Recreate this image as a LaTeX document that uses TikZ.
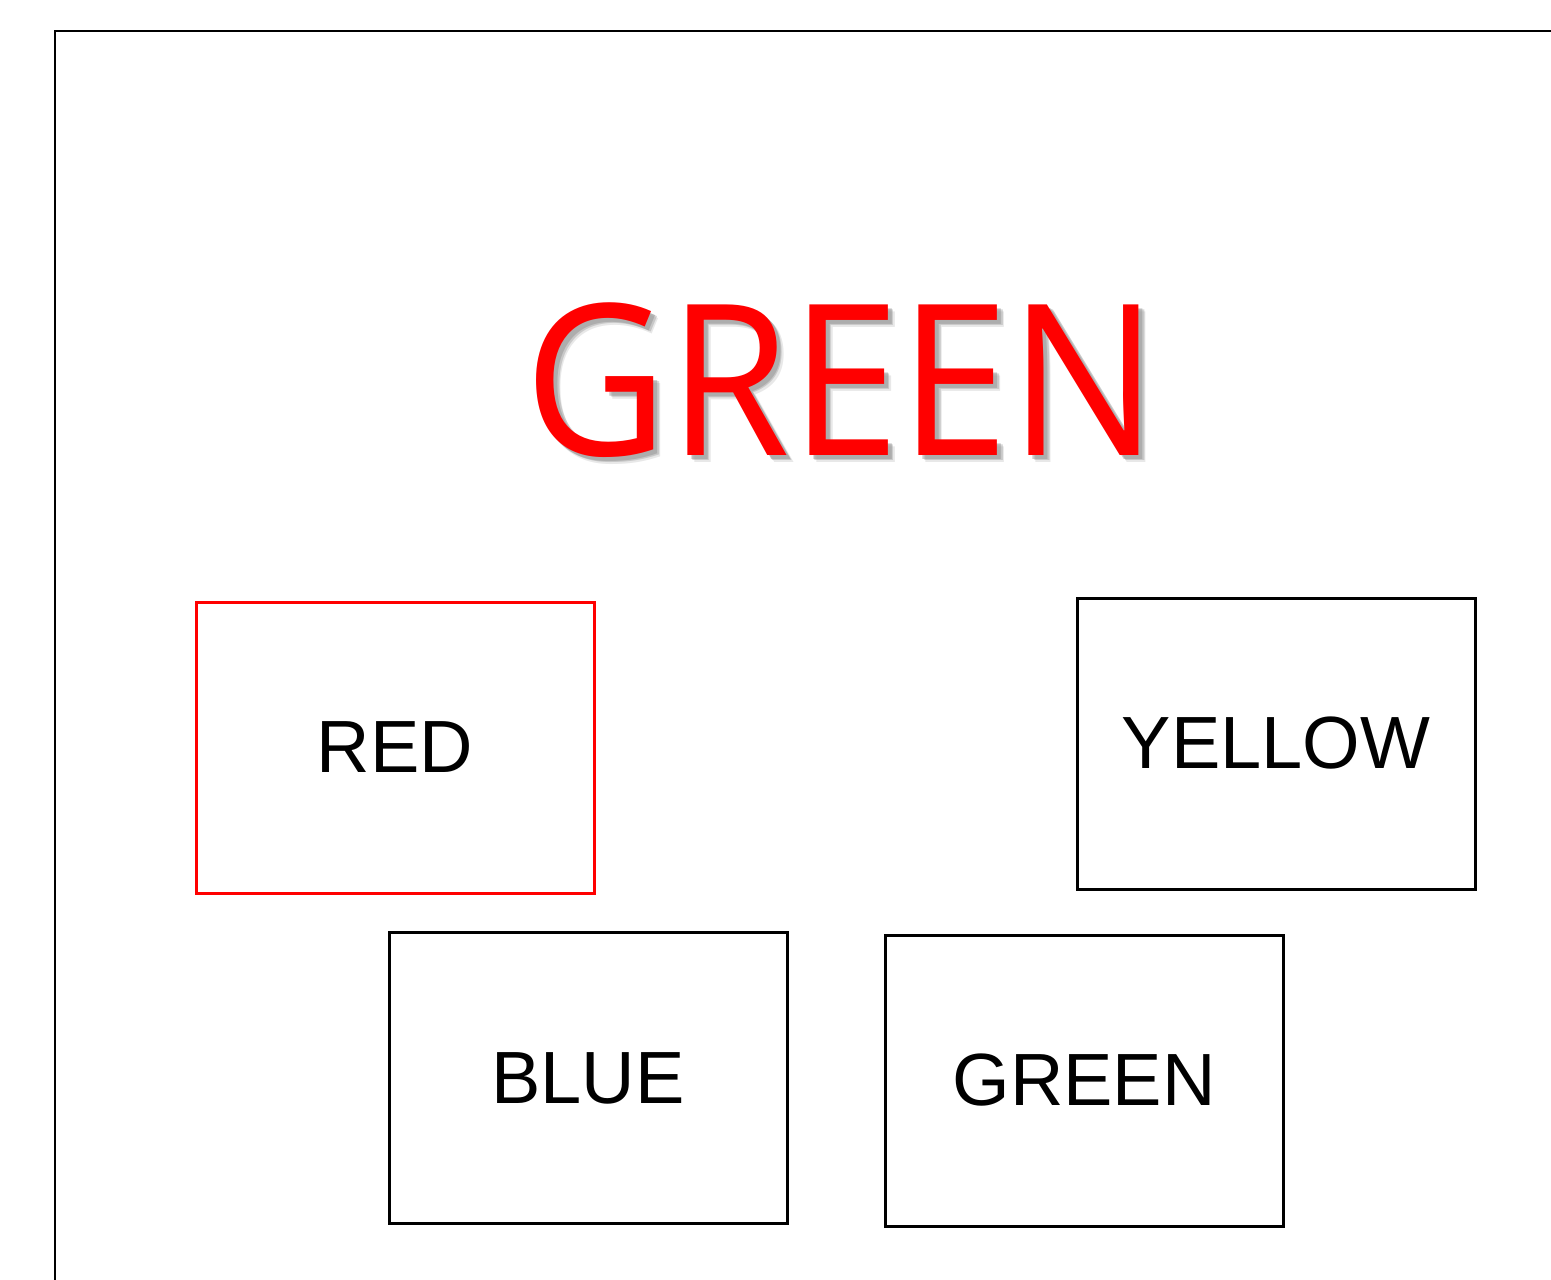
\documentclass[tikz,border=0pt]{standalone}
\usepackage{fontspec}
\setmainfont{Liberation Sans}
\newfontfamily\titlefont{Open Sans}
\begin{document}
\begin{tikzpicture}[x=1pt,y=-1pt,
  colorbox/.style={draw=black,line width=3pt,minimum width=398pt,minimum height=291pt,inner sep=0pt,
    font=\fontsize{74}{74}\selectfont},
  titletext/.style={anchor=base,inner sep=0pt,xscale=0.935,font=\titlefont\fontsize{211}{211}\selectfont}]
\useasboundingbox (0,0) rectangle (1551,1280);
\draw[line width=2pt] (55,1281) -- (55,31) -- (1552,31);
% title shadow
\foreach \d/\o in {7/0.2,5.5/0.35,4/0.45}{
  \node[titletext,text=black!45,opacity=\o] (sh\d) at (841.5+\d,455+\d) {GREEN};
}
\node[titletext,text=red] (title) at (841.5,455) {GREEN};
\node[colorbox,draw=red] (red) at (395,747.5) {RED};
\node[colorbox] (yellow) at (1276,743.5) {YELLOW};
\node[colorbox] (blue) at (588,1078) {BLUE};
\node[colorbox] (green) at (1084,1080.5) {GREEN};
\end{tikzpicture}
\end{document}
